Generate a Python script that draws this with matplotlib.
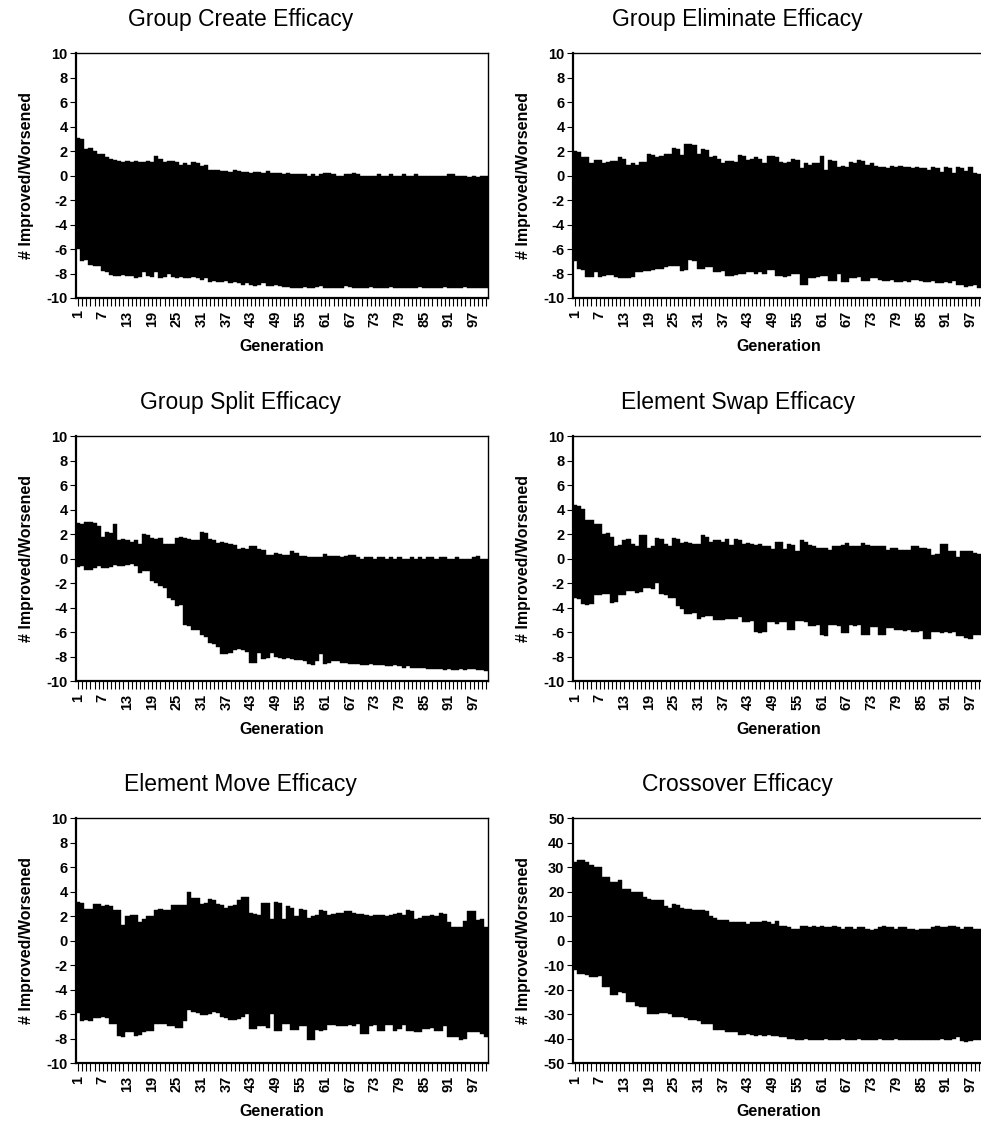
import matplotlib
matplotlib.use('Agg')
import matplotlib.pyplot as plt
import numpy as np

plt.rcParams['font.family'] = ['Liberation Sans', 'DejaVu Sans']

# Generations 1..100
generations = list(range(1, 101))
tick_gens = list(range(1, 101, 6))

titles = ['Group Create Efficacy', 'Group Eliminate Efficacy',
          'Group Split Efficacy', 'Element Swap Efficacy',
          'Element Move Efficacy', 'Crossover Efficacy']

# Group Create: high / low per generation
create_hi = [3.1, 3.0, 2.2, 2.3, 2.0, 1.8, 1.8, 1.5, 1.4, 1.3,
             1.2, 1.1, 1.2, 1.1, 1.2, 1.1, 1.1, 1.2, 1.1, 1.6,
             1.4, 1.1, 1.2, 1.2, 1.1, 0.9, 1.0, 0.9, 1.1, 1.0,
             0.8, 0.9, 0.5, 0.5, 0.5, 0.4, 0.4, 0.3, 0.5, 0.4,
             0.3, 0.3, 0.2, 0.3, 0.3, 0.2, 0.4, 0.2, 0.2, 0.2,
             0.1, 0.2, 0.1, 0.1, 0.1, 0.1, 0.0, 0.1, 0.0, 0.1,
             0.2, 0.2, 0.1, 0.0, 0.0, 0.1, 0.1, 0.2, 0.1, 0.0,
             0.0, 0.0, 0.0, 0.1, 0.0, 0.0, 0.1, 0.0, 0.0, 0.1,
             0.0, 0.0, 0.1, 0.0, 0.0, 0.0, 0.0, 0.0, 0.0, 0.0,
             0.1, 0.1, 0.0, 0.0, 0.0, -0.1, 0.0, -0.1, 0.0, 0.0]
create_lo = [-6.0, -7.0, -6.9, -7.3, -7.4, -7.4, -7.8, -7.9, -8.1, -8.2,
             -8.2, -8.1, -8.2, -8.2, -8.4, -8.3, -7.9, -8.2, -8.3, -7.9,
             -8.4, -8.3, -8.0, -8.3, -8.4, -8.3, -8.4, -8.4, -8.3, -8.4,
             -8.5, -8.4, -8.7, -8.6, -8.7, -8.7, -8.6, -8.8, -8.7, -8.8,
             -8.9, -8.8, -8.9, -9.0, -8.9, -8.8, -9.0, -9.0, -8.9, -9.0,
             -9.1, -9.1, -9.2, -9.2, -9.2, -9.1, -9.2, -9.2, -9.1, -9.0,
             -9.2, -9.2, -9.2, -9.2, -9.2, -9.0, -9.1, -9.2, -9.2, -9.2,
             -9.2, -9.1, -9.2, -9.2, -9.2, -9.2, -9.1, -9.2, -9.2, -9.2,
             -9.2, -9.2, -9.2, -9.1, -9.2, -9.2, -9.2, -9.2, -9.2, -9.1,
             -9.2, -9.2, -9.2, -9.2, -9.1, -9.2, -9.2, -9.2, -9.2, -9.2]

# Group Eliminate
elim_hi = [2.0, 1.9, 1.5, 1.5, 1.0, 1.3, 1.3, 1.0, 1.1, 1.2,
           1.2, 1.5, 1.4, 0.9, 1.0, 0.9, 1.1, 1.1, 1.8, 1.7,
           1.5, 1.6, 1.8, 1.8, 2.3, 2.2, 1.7, 2.6, 2.6, 2.5,
           1.8, 2.2, 2.1, 1.5, 1.6, 1.4, 1.0, 1.2, 1.2, 1.1,
           1.7, 1.6, 1.3, 1.4, 1.5, 1.4, 1.0, 1.6, 1.6, 1.5,
           1.1, 1.0, 1.1, 1.4, 1.3, 0.6, 1.0, 0.9, 1.0, 1.0,
           1.6, 0.5, 1.3, 1.2, 0.7, 0.8, 0.7, 1.1, 1.0, 1.3,
           1.2, 0.9, 1.0, 0.8, 0.7, 0.7, 0.6, 0.8, 0.7, 0.8,
           0.7, 0.7, 0.6, 0.7, 0.6, 0.6, 0.5, 0.7, 0.6, 0.3,
           0.7, 0.6, 0.2, 0.7, 0.6, 0.4, 0.7, 0.2, 0.1, 0.1]
elim_lo = [-7.0, -7.6, -7.7, -8.3, -8.3, -7.9, -8.3, -8.2, -8.1, -8.1,
           -8.3, -8.4, -8.4, -8.4, -8.3, -7.9, -7.9, -7.8, -7.8, -7.7,
           -7.6, -7.6, -7.5, -7.4, -7.4, -7.4, -7.8, -7.7, -6.9, -7.0,
           -7.6, -7.6, -7.5, -7.5, -7.9, -7.9, -7.8, -8.2, -8.2, -8.1,
           -8.0, -8.0, -7.9, -7.9, -8.0, -7.9, -8.0, -7.7, -7.7, -8.2,
           -8.2, -8.3, -8.2, -8.0, -8.0, -8.9, -8.9, -8.4, -8.4, -8.3,
           -8.2, -8.2, -8.6, -8.6, -8.0, -8.7, -8.7, -8.4, -8.4, -8.3,
           -8.6, -8.6, -8.4, -8.4, -8.5, -8.6, -8.6, -8.5, -8.7, -8.7,
           -8.6, -8.7, -8.5, -8.5, -8.6, -8.7, -8.7, -8.6, -8.8, -8.8,
           -8.7, -8.8, -8.6, -8.9, -8.9, -9.1, -9.0, -8.9, -9.2, -9.1]

# Group Split
split_hi = [2.9, 2.8, 3.0, 3.0, 2.9, 2.7, 1.8, 2.2, 2.1, 2.8,
            1.5, 1.6, 1.5, 1.4, 1.5, 1.2, 2.0, 1.9, 1.7, 1.6,
            1.7, 1.2, 1.2, 1.2, 1.7, 1.8, 1.7, 1.6, 1.5, 1.5,
            2.2, 2.1, 1.6, 1.5, 1.3, 1.4, 1.3, 1.2, 1.1, 0.8,
            0.9, 0.8, 1.0, 1.0, 0.8, 0.7, 0.3, 0.3, 0.5, 0.4,
            0.3, 0.3, 0.6, 0.5, 0.2, 0.2, 0.1, 0.1, 0.1, 0.1,
            0.4, 0.2, 0.2, 0.2, 0.1, 0.2, 0.3, 0.3, 0.1, 0.0,
            0.1, 0.1, 0.0, 0.1, 0.1, 0.0, 0.1, 0.0, 0.1, 0.0,
            0.0, 0.1, 0.0, 0.1, 0.0, 0.1, 0.1, 0.0, 0.1, 0.1,
            0.0, 0.0, 0.1, 0.0, 0.0, 0.0, 0.1, 0.2, 0.0, 0.0]
split_lo = [-0.7, -0.6, -0.9, -0.9, -0.8, -0.6, -0.8, -0.8, -0.7, -0.5,
            -0.6, -0.6, -0.5, -0.4, -0.6, -1.2, -1.0, -1.0, -1.8, -2.0,
            -2.2, -2.4, -3.2, -3.4, -3.9, -3.8, -5.4, -5.5, -5.8, -5.8,
            -6.2, -6.4, -6.9, -7.0, -7.2, -7.8, -7.8, -7.7, -7.5, -7.4,
            -7.5, -7.6, -8.5, -8.5, -7.7, -8.2, -8.1, -7.7, -8.0, -8.1,
            -8.2, -8.1, -8.2, -8.3, -8.3, -8.4, -8.6, -8.7, -8.4, -7.8,
            -8.6, -8.5, -8.4, -8.4, -8.5, -8.5, -8.6, -8.6, -8.6, -8.7,
            -8.7, -8.6, -8.7, -8.7, -8.7, -8.8, -8.8, -8.7, -8.8, -8.9,
            -8.8, -8.9, -8.9, -8.9, -8.9, -9.0, -9.0, -9.0, -9.0, -9.1,
            -9.0, -9.1, -9.1, -9.0, -9.1, -9.0, -9.0, -9.1, -9.1, -9.2]

# Element Swap
swap_hi = [4.4, 4.3, 4.1, 3.2, 3.2, 2.8, 2.8, 2.0, 2.1, 1.8,
           1.0, 1.1, 1.5, 1.6, 1.2, 1.0, 1.9, 1.9, 0.9, 1.0,
           1.7, 1.6, 1.2, 1.0, 1.7, 1.6, 1.3, 1.4, 1.3, 1.2,
           1.2, 1.9, 1.8, 1.4, 1.5, 1.5, 1.4, 1.6, 1.1, 1.6,
           1.5, 1.2, 1.3, 1.2, 1.1, 1.2, 1.0, 1.0, 0.8, 1.4,
           1.4, 0.8, 1.2, 1.1, 0.6, 1.5, 1.4, 1.1, 1.0, 0.9,
           0.9, 0.9, 0.7, 1.0, 1.0, 1.1, 1.3, 1.0, 1.0, 1.0,
           1.3, 1.1, 1.0, 1.0, 1.0, 1.0, 0.7, 0.9, 0.9, 0.7,
           0.7, 0.7, 1.0, 1.0, 0.9, 0.9, 0.8, 0.3, 0.4, 1.2,
           1.2, 0.6, 0.6, 0.1, 0.6, 0.6, 0.6, 0.5, 0.4, 0.4]
swap_lo = [-3.2, -3.3, -3.7, -3.8, -3.7, -3.0, -3.0, -2.9, -2.9, -3.6,
           -3.5, -3.0, -3.0, -2.6, -2.6, -2.8, -2.7, -2.4, -2.4, -2.5,
           -2.0, -2.9, -3.0, -3.2, -3.2, -3.9, -4.1, -4.5, -4.5, -4.4,
           -4.9, -4.8, -4.7, -4.7, -5.0, -5.0, -5.0, -4.9, -4.9, -4.9,
           -4.8, -5.2, -5.2, -5.1, -6.0, -6.1, -6.0, -5.2, -5.2, -5.3,
           -5.2, -5.2, -5.8, -5.8, -5.1, -5.1, -5.2, -5.5, -5.5, -5.4,
           -6.2, -6.3, -5.4, -5.4, -5.5, -6.1, -6.1, -5.4, -5.5, -5.4,
           -6.2, -6.2, -5.6, -5.6, -6.2, -6.2, -5.7, -5.7, -5.8, -5.8,
           -5.9, -5.8, -6.0, -6.0, -5.9, -6.6, -6.6, -6.0, -6.0, -6.1,
           -6.0, -6.1, -6.0, -6.3, -6.3, -6.5, -6.6, -6.2, -6.2, -6.1]

# Element Move
move_hi = [3.2, 3.1, 2.6, 2.6, 3.0, 3.0, 2.8, 2.9, 2.8, 2.5,
           2.5, 1.3, 2.0, 2.1, 2.1, 1.5, 1.8, 2.0, 2.0, 2.5,
           2.6, 2.5, 2.5, 2.9, 2.9, 2.9, 2.9, 4.0, 3.5, 3.5,
           3.0, 3.1, 3.4, 3.3, 3.0, 2.9, 2.7, 2.8, 2.9, 3.3,
           3.6, 3.6, 2.3, 2.2, 2.1, 3.1, 3.1, 1.8, 3.2, 3.1,
           1.8, 2.8, 2.7, 2.0, 2.6, 2.5, 1.9, 2.0, 2.1, 2.5,
           2.4, 2.1, 2.2, 2.3, 2.3, 2.4, 2.4, 2.3, 2.2, 2.2,
           2.1, 2.0, 2.1, 2.1, 2.1, 2.0, 2.1, 2.2, 2.3, 2.1,
           2.5, 2.4, 1.8, 1.9, 2.0, 2.0, 2.1, 2.0, 2.3, 2.2,
           1.5, 1.1, 1.1, 1.1, 1.6, 2.4, 2.4, 1.7, 1.8, 1.1]
move_lo = [-5.9, -6.6, -6.5, -6.6, -6.3, -6.3, -6.2, -6.3, -6.8, -6.8,
           -7.8, -7.9, -7.5, -7.5, -7.8, -7.7, -7.5, -7.4, -7.4, -6.8,
           -6.8, -6.8, -7.0, -7.0, -7.1, -7.1, -6.6, -5.7, -5.8, -5.9,
           -6.1, -6.1, -6.0, -5.8, -5.9, -6.2, -6.3, -6.5, -6.5, -6.4,
           -6.2, -6.0, -7.2, -7.2, -7.0, -7.0, -7.1, -6.0, -7.4, -7.4,
           -6.8, -6.8, -7.3, -7.3, -7.0, -7.0, -8.1, -8.1, -7.3, -7.4,
           -7.3, -6.9, -6.9, -7.0, -7.0, -7.0, -6.9, -7.0, -6.8, -7.6,
           -7.6, -7.0, -6.9, -7.4, -7.4, -6.9, -6.9, -7.4, -7.2, -6.9,
           -7.4, -7.4, -7.5, -7.5, -7.2, -7.2, -7.1, -7.4, -7.4, -7.0,
           -7.9, -7.9, -7.9, -8.1, -8.0, -7.5, -7.5, -7.5, -7.6, -7.9]

# Crossover
cross_hi = [32, 33, 33, 32, 31, 30, 30, 26, 26, 24,
            24, 25, 21, 21, 20, 20, 20, 18, 17, 16.5,
            16.5, 16.5, 14, 13.5, 15, 14.5, 13.5, 13, 13, 12.5,
            12.5, 12.5, 12, 10, 9.5, 8.5, 8.5, 8.5, 7.5, 7.5,
            7.5, 7.5, 7, 7.5, 7.5, 7.5, 8, 7.5, 7, 8,
            6, 6, 5.5, 5, 5, 6, 6, 5.5, 6, 5.5,
            6, 5.5, 5.5, 6, 5.5, 5, 5.5, 5.5, 5, 5.5,
            5.5, 5, 4.5, 5, 5.5, 6, 5.5, 5.5, 5, 5.5,
            5.5, 5, 5, 4.5, 5, 5, 5, 5.5, 6, 5.5,
            5.5, 6, 6, 5.5, 5, 5.5, 5.5, 5, 5, 4.5]
cross_lo = [-12, -13.5, -13.5, -14, -15, -15, -14.5, -19, -19, -22,
            -22, -21, -21.5, -25, -25, -26.5, -27, -27, -30, -30,
            -30, -29.5, -29.5, -30, -31, -31, -31, -31.5, -32.5, -32.5,
            -33, -34, -34, -34, -36.5, -36.5, -36.5, -37.5, -37.5, -37.5,
            -38.5, -38.5, -38, -38.5, -39, -38.5, -39, -38.5, -39, -39,
            -39.5, -39.5, -40, -40, -40.5, -40.5, -40, -40.5, -40.5, -40.5,
            -40.5, -40, -40.5, -40.5, -40.5, -40, -40.5, -40.5, -40.5, -40,
            -40.5, -40.5, -40.5, -40.5, -40, -40.5, -40.5, -40.5, -40, -40.5,
            -40.5, -40.5, -40.5, -40.5, -40.5, -40.5, -40.5, -40.5, -40.5, -40,
            -40.5, -40.5, -40, -39.5, -41, -41.5, -41, -40.5, -40.5, -40.5]

highs = [create_hi, elim_hi, split_hi, swap_hi, move_hi, cross_hi]
lows = [create_lo, elim_lo, split_lo, swap_lo, move_lo, cross_lo]
y_limits = [10, 10, 10, 10, 10, 50]

fig = plt.figure(figsize=(9.81, 11.21), dpi=100)

# axes boxes in figure fraction: [left, bottom, width, height]
lefts = [0.0775, 0.584]
bottoms = [0.7342, 0.3925, 0.0517]
ax_w, ax_h = 0.42, 0.2182

for k in range(6):
    row, col = divmod(k, 2)
    ax = fig.add_axes([lefts[col], bottoms[row], ax_w, ax_h])
    hi = np.array(highs[k])
    lo = np.array(lows[k])
    ax.bar(generations, hi - lo, bottom=lo, width=1.0, color='black',
           edgecolor='black', linewidth=0.3)

    lim = y_limits[k]
    yt = np.arange(-lim, lim + 1, lim / 5)
    ax.set_xlim(0.5, 100.5)
    ax.set_ylim(-lim, lim)
    ax.set_yticks(yt)
    ax.set_yticklabels([str(int(v)) for v in yt], fontsize=10.5, fontweight='bold')
    ax.set_xticks(tick_gens)
    ax.set_xticklabels([str(g) for g in tick_gens], rotation=90,
                       fontsize=10.5, fontweight='bold')
    ax.set_xticks(generations, minor=True)
    ax.tick_params(axis='x', which='both', direction='out', length=6, width=0.8, pad=3)
    ax.tick_params(axis='y', direction='out', length=4, width=0.8, pad=2)

    for side in ['left', 'bottom']:
        ax.spines[side].set_linewidth(1.6)
    for side in ['top', 'right']:
        ax.spines[side].set_linewidth(1.0)

    ax.set_title(titles[k], fontsize=16.5, x=0.4, pad=20)
    ax.set_xlabel('Generation', fontsize=11.5, fontweight='bold', labelpad=9)
    ax.set_ylabel('# Improved/Worsened', fontsize=11.5, fontweight='bold', labelpad=9)

plt.savefig('out.png', dpi=100)
